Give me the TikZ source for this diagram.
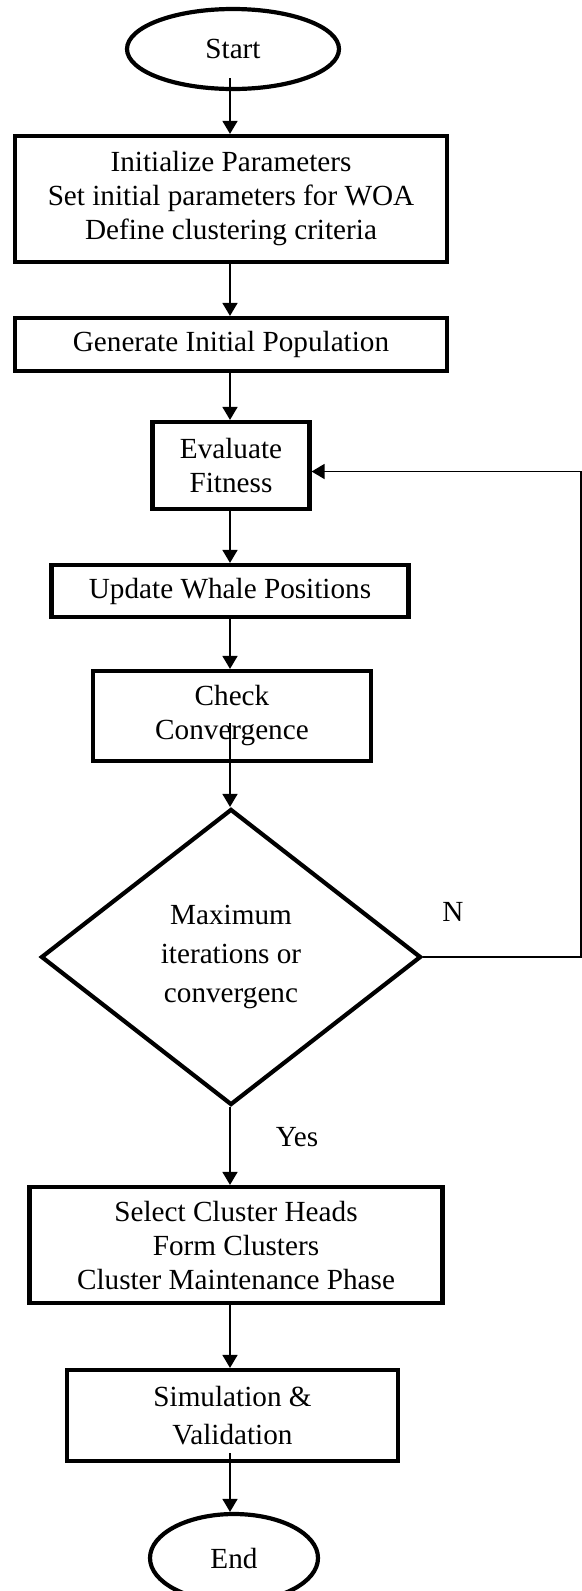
\documentclass[tikz,border=0pt]{standalone}
\usepackage{fontspec}
\setmainfont{Liberation Serif}
\usetikzlibrary{shapes.geometric,arrows.meta}

\begin{document}
\begin{tikzpicture}[x=0.5pt,y=-0.5pt,>={Triangle[length=6.5pt,width=7.5pt]},
  font=\fontsize{14.6}{17}\selectfont,
  terminal/.style={draw,ellipse,line width=2.1pt,inner sep=0pt},
  process/.style={draw,rectangle,line width=2.1pt,align=center,inner sep=0pt},
  decision/.style={draw,diamond,line width=2.1pt,align=center,inner sep=0pt},
  flow/.style={->,line width=0.8pt}]
  \useasboundingbox (0,0) rectangle (582,1591);
  \node[terminal,minimum width=106pt,minimum height=40pt] (start) at (233,49) {Start};
  \node[process,minimum width=216pt,minimum height=63pt] (init) at (231,199)
    {Initialize Parameters\\Set initial parameters for WOA\\Define clustering criteria};
  \node[process,minimum width=216pt,minimum height=26.5pt] (gen) at (231,344.5) {Generate Initial Population};
  \node[process,minimum width=78.5pt,minimum height=43.5pt] (eval) at (231,465.5) {Evaluate\\Fitness};
  \node[process,minimum width=178.5pt,minimum height=26pt] (update) at (230,591) {Update Whale Positions};
  \node[process,minimum width=139pt,minimum height=45pt] (check) at (232,716) {Check\\Convergence};
  \node[decision,minimum width=190pt,minimum height=148pt,font=\fontsize{14.6}{19.5}\selectfont] (dec) at (231,957)
    {Maximum\\iterations or\\convergenc};
  \node[process,minimum width=206.5pt,minimum height=58pt] (select) at (236,1245)
    {Select Cluster Heads\\Form Clusters\\Cluster Maintenance Phase};
  \node[process,minimum width=165.5pt,minimum height=45.5pt,font=\fontsize{14.6}{19}\selectfont] (sim) at (232.5,1415.5)
    {Simulation \&\\Validation};
  \node[terminal,minimum width=84pt,minimum height=44pt] (end) at (234,1558) {End};
  \node (no) at (453,912) {N};
  \node (yes) at (297,1137) {Yes};
  \draw[flow] ([yshift=6.5pt]start.south -| 230,0) -- (init.north -| 230,0);
  \draw[flow] (init.south -| 230,0) -- (gen.north -| 230,0);
  \draw[flow] (gen.south -| 230,0) -- (eval.north -| 230,0);
  \draw[flow] (eval.south -| 230,0) -- (update.north -| 230,0);
  \draw[flow] (update.south -| 230,0) -- (check.north -| 230,0);
  \draw[flow] ([yshift=20pt]check.south -| 230,0) -- (dec.north -| 230,0);
  \draw[flow] (dec.south -| 230,0) -- (select.north -| 230,0);
  \draw[flow] (select.south -| 230,0) -- (sim.north -| 230,0);
  \draw[flow] ([yshift=5pt]sim.south -| 230,0) -- (end.north -| 230,0);
  \draw[flow] (dec.east) -- (581,957) |- ([yshift=-3pt]eval.east);
\end{tikzpicture}
\end{document}
